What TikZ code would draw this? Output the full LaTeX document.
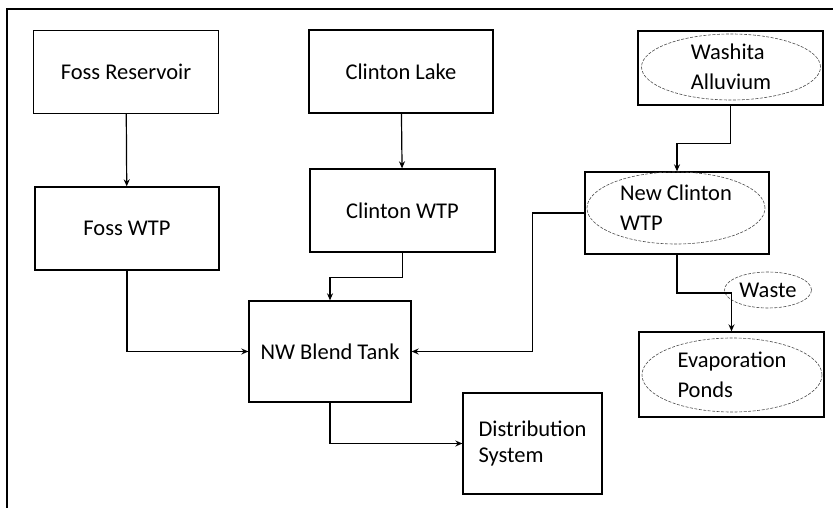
\documentclass[tikz,border=0pt]{standalone}
\usepackage{fontspec}
\setmainfont{Carlito}
\usetikzlibrary{arrows.meta,shapes.geometric}
\tikzset{
  box/.style={draw, line width=1.3pt, inner sep=0pt, align=center,
    font=\fontsize{22.5}{30}\selectfont},
  oval/.style={draw, ellipse, dashed, dash pattern=on 3pt off 1.5pt, line width=0.6pt,
    draw=black!70, inner sep=0pt, align=left, font=\fontsize{22.5}{30}\selectfont},
  flow/.style={line width=1.2pt, -{Stealth[length=7pt,width=6pt]}}
}
\def\plantbox#1#2#3{%
  \node[box, minimum width=#2, minimum height=#3] (#1)}
\begin{document}
\begin{tikzpicture}[x=1pt, y=-1pt]
  \useasboundingbox (0,0) rectangle (833,508);
  \draw[line width=1.3pt] (833,9) -- (7,9) -- (7,508);

  % sources
  \plantbox{fossres}{185}{83} at (126,72) {Foss Reservoir};
  \plantbox{clake}{184}{83} at (401,71.5) {Clinton Lake};
  \plantbox{wash}{185}{74} at (730.5,68) {};
  \node[oval, minimum width=179, minimum height=66] (washtxt) at (731,67) {Washita\\Alluvium};

  % treatment
  \plantbox{fosswtp}{184}{83} at (127,228.5) {Foss WTP};
  \plantbox{cwtp}{185}{83} at (402.5,210.5) {Clinton WTP};
  \plantbox{ncl}{184}{82} at (677,213) {};
  \node[oval, minimum width=178, minimum height=72] (ncltxt) at (676,208) {New Clinton\\WTP};

  % blending and outlets
  \plantbox{blend}{162}{101} at (330,351.5) {NW Blend Tank};
  \plantbox{dist}{139}{101} at (532.5,443.5) {};
  \node[align=left, font=\fontsize{22.5}{26}\selectfont] (disttxt) at (dist) {Distribution\\System};
  \node[oval, minimum width=87, minimum height=36] (waste) at (768,290) {Waste};
  \plantbox{evap}{185}{85} at (731.5,374.5) {};
  \node[oval, minimum width=180, minimum height=74] (evaptxt) at (732,375) {Evaporation\\Ponds};

  \coordinate (wbend) at (evap.north |- 0,293);

  \draw[flow] (fossres) -- (fosswtp);
  \draw[flow] (clake) -- (cwtp);
  \draw[flow] (fosswtp.south) |- (blend.west);
  \draw[flow] (cwtp.south) -- ++(0,25) -| (blend.north);
  \draw[flow] (ncl.west) -- ++(-52,0) |- (blend.east);
  \draw[flow] (wash.south) -- ++(0,38) -| (ncl.north);
  \draw[flow] (ncl.south) |- (wbend) -- (evap.north);
  \draw[flow] (blend.south) |- (dist.west);
\end{tikzpicture}
\end{document}
